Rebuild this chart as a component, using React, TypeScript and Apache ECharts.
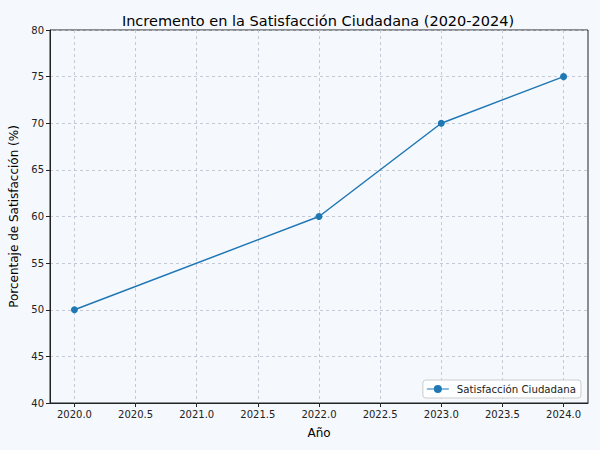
import React, { useEffect, useRef } from "react";
import * as echarts from "echarts";

const years = [2020, 2022, 2023, 2024];
const satisfaction = [50, 60, 70, 75];
const xTicks = [2020.0, 2020.5, 2021.0, 2021.5, 2022.0, 2022.5, 2023.0, 2023.5, 2024.0];
const seriesName = "Satisfacción Ciudadana";
const titleText = "Incremento en la Satisfacción Ciudadana (2020-2024)";

export default function App() {
  const ref = useRef<HTMLDivElement>(null);
  useEffect(() => {
    document.body.style.margin = "0";
    if (!ref.current) return;
    const chart = echarts.init(ref.current, undefined, { renderer: "svg" });
    const font = "DejaVu Sans";
    chart.setOption({
      animation: false,
      backgroundColor: "#f5f8fd",
      textStyle: { fontFamily: font },
      title: {
        text: titleText,
        left: 313,
        textAlign: "center",
        top: 8,
        textStyle: { fontFamily: font, fontSize: 14.5, fontWeight: "normal", color: "#000" },
      },
      grid: {
        left: 50,
        right: 12,
        top: 30,
        bottom: 47,
        show: true,
        borderColor: "#222",
        borderWidth: 1,
        backgroundColor: "transparent",
      },
      legend: {
        right: 19,
        bottom: 52,
        backgroundColor: "rgba(255,255,255,0.8)",
        borderColor: "#ccc",
        borderWidth: 1,
        borderRadius: 3,
        padding: [4, 5, 4, 4],
        itemWidth: 22,
        itemHeight: 8,
        textStyle: { fontFamily: font, fontSize: 10.2, color: "#222", padding: [0, 0, 0, 3] },
        data: [{ name: seriesName, icon: "path://M0,4 L22,4 L22,5 L0,5 Z M7,4.5 A4,4 0 1 1 15,4.5 A4,4 0 1 1 7,4.5 Z" }],
      },
      xAxis: {
        type: "value",
        min: 2019.8,
        max: 2024.2,
        name: "Año",
        nameLocation: "middle",
        nameGap: 24,
        nameTextStyle: { fontFamily: font, fontSize: 12, color: "#000" },
        axisLine: { show: true, lineStyle: { color: "#222", width: 1 } },
        axisTick: { show: true, inside: false, length: 4, lineStyle: { color: "#222" }, customValues: xTicks },
        axisLabel: {
          fontFamily: font,
          fontSize: 10,
          color: "#222",
          margin: 6,
          customValues: xTicks,
          formatter: (v: number) => v.toFixed(1),
        },
        splitLine: { show: true, lineStyle: { color: "#b8bfcc", type: [3, 3], width: 0.8 } },
      },
      yAxis: {
        type: "value",
        min: 40,
        max: 80,
        interval: 5,
        name: "Porcentaje de Satisfacción (%)",
        nameLocation: "middle",
        nameGap: 22,
        nameTextStyle: { fontFamily: font, fontSize: 12, color: "#000" },
        axisLine: { show: true, lineStyle: { color: "#222", width: 1 } },
        axisTick: { show: true, inside: false, length: 4, lineStyle: { color: "#222" } },
        axisLabel: { fontFamily: font, fontSize: 10, color: "#222", margin: 6 },
        splitLine: { show: true, lineStyle: { color: "#b8bfcc", type: [3, 3], width: 0.8 } },
      },
      series: [
        {
          name: seriesName,
          type: "line",
          data: years.map((y, i) => [y, satisfaction[i]]),
          symbol: "circle",
          symbolSize: 7,
          itemStyle: { color: "#1f77b4" },
          lineStyle: { color: "#1f77b4", width: 1.5 },
        },
      ],
    });
    return () => chart.dispose();
  }, []);
  return <div ref={ref} style={{ width: 600, height: 450 }} />;
}
